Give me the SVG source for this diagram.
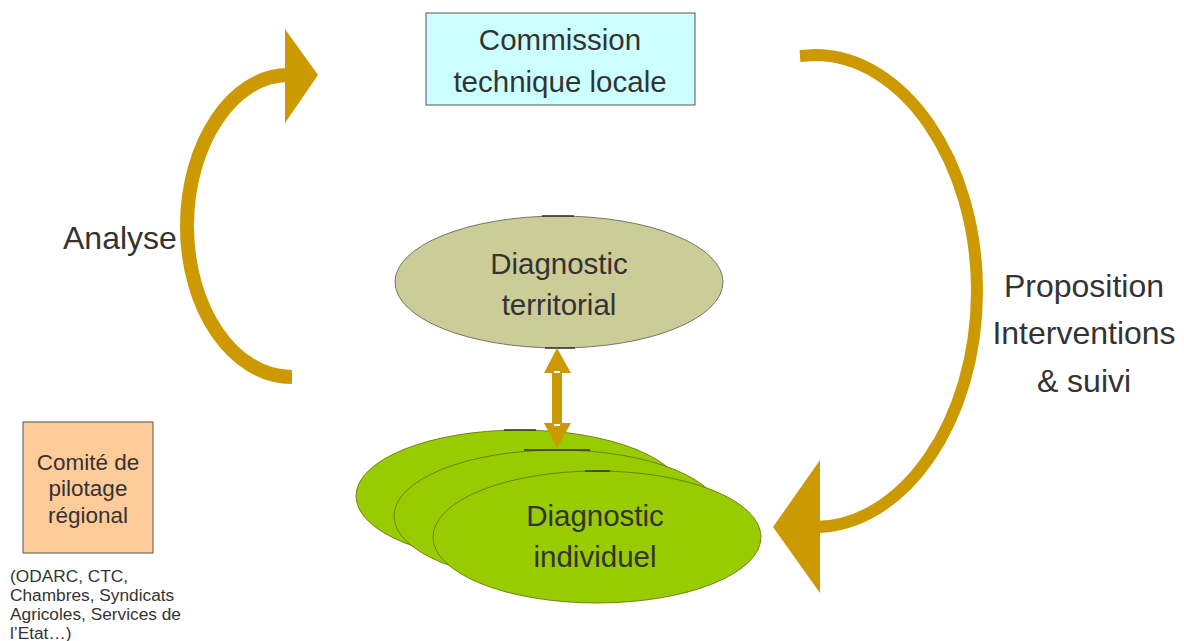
<svg xmlns="http://www.w3.org/2000/svg" width="1184" height="641" viewBox="0 0 1184 641">
<style>
  text { font-family: "Liberation Sans", Arial, sans-serif; fill: #333333; }
  .big { font-size: 32px; }
  .node { font-size: 29.5px; text-anchor: middle; }
  .small { font-size: 22.5px; text-anchor: middle; }
  .note { font-size: 17.3px; }
  .arc { fill: none; stroke: #cc9900; }
  .head { fill: #cc9900; }
  .mark { stroke: #333333; stroke-width: 1.5; }
</style>
<rect width="1184" height="641" fill="#ffffff"/>

<g id="commission">
  <rect x="426" y="13" width="269" height="92" fill="#ccffff" stroke="#555555" stroke-width="1"/>
  <text class="node" x="560" y="50">Commission</text>
  <text class="node" x="560" y="92">technique locale</text>
</g>

<g id="diag-territorial">
  <ellipse cx="559" cy="282" rx="164" ry="66" fill="#cccc99" stroke="#777766" stroke-width="1"/>
  <line class="mark" x1="542" y1="216" x2="574" y2="216"/>
  <line class="mark" x1="545" y1="348" x2="575" y2="348"/>
  <text class="node" x="559" y="274">Diagnostic</text>
  <text class="node" x="559" y="315">territorial</text>
</g>

<g id="diag-individuel">
  <ellipse cx="520" cy="496" rx="164" ry="66" fill="#99cc00" stroke="#5a7000" stroke-width="0.8"/>
  <ellipse cx="558" cy="516" rx="164" ry="66" fill="#99cc00" stroke="#5a7000" stroke-width="0.8"/>
  <ellipse cx="597" cy="537" rx="164" ry="66" fill="#99cc00" stroke="#5a7000" stroke-width="0.8"/>
  <line class="mark" x1="504" y1="430" x2="536" y2="430"/>
  <line class="mark" x1="524" y1="450" x2="590" y2="450"/>
  <line class="mark" x1="585" y1="471" x2="610" y2="471"/>
  <text class="node" x="595" y="526">Diagnostic</text>
  <text class="node" x="595" y="567">individuel</text>
</g>

<g id="comite">
  <rect x="23" y="422" width="130" height="131" fill="#ffcc99" stroke="#555555" stroke-width="1"/>
  <text class="small" x="88" y="470">Comité de</text>
  <text class="small" x="88" y="496">pilotage</text>
  <text class="small" x="88" y="523">régional</text>
</g>

<g id="labels">
  <text class="big" x="63" y="249">Analyse</text>
  <text class="big" x="1084" y="297" text-anchor="middle">Proposition</text>
  <text class="big" x="1084" y="344" text-anchor="middle">Interventions</text>
  <text class="big" x="1084" y="392" text-anchor="middle">&amp; suivi</text>
  <text class="note" x="10" y="582">(ODARC, CTC,</text>
  <text class="note" x="10" y="601">Chambres, Syndicats</text>
  <text class="note" x="10" y="620">Agricoles, Services de</text>
  <text class="note" x="10" y="639">l’Etat…)</text>
</g>

<g id="connectors">
  <path class="arc" stroke-width="14" d="M 292 377 C 233 377, 187 309, 187 226 C 187 143, 233 75, 288 75"/>
  <polygon class="head" points="285,29 285,123 318,75"/>
  <path class="arc" stroke-width="12" d="M 800 56 C 815 55, 815 55, 815 55 C 903 55, 977 161, 977 291 C 977 421, 903 527, 815 527"/>
  <polygon class="head" points="820,460 820,593 773,527"/>
  <g id="double-arrow">
    <rect x="552" y="372" width="10" height="52" fill="#cc9900"/>
    <polygon class="head" points="557,348 544,373 571,373"/>
    <polygon class="head" points="557,448 544,423 571,423"/>
    <rect x="554" y="371" width="6" height="2" fill="#ffffff"/>
    <rect x="554" y="424" width="6" height="2" fill="#ffffff"/>
  </g>
</g>
</svg>
